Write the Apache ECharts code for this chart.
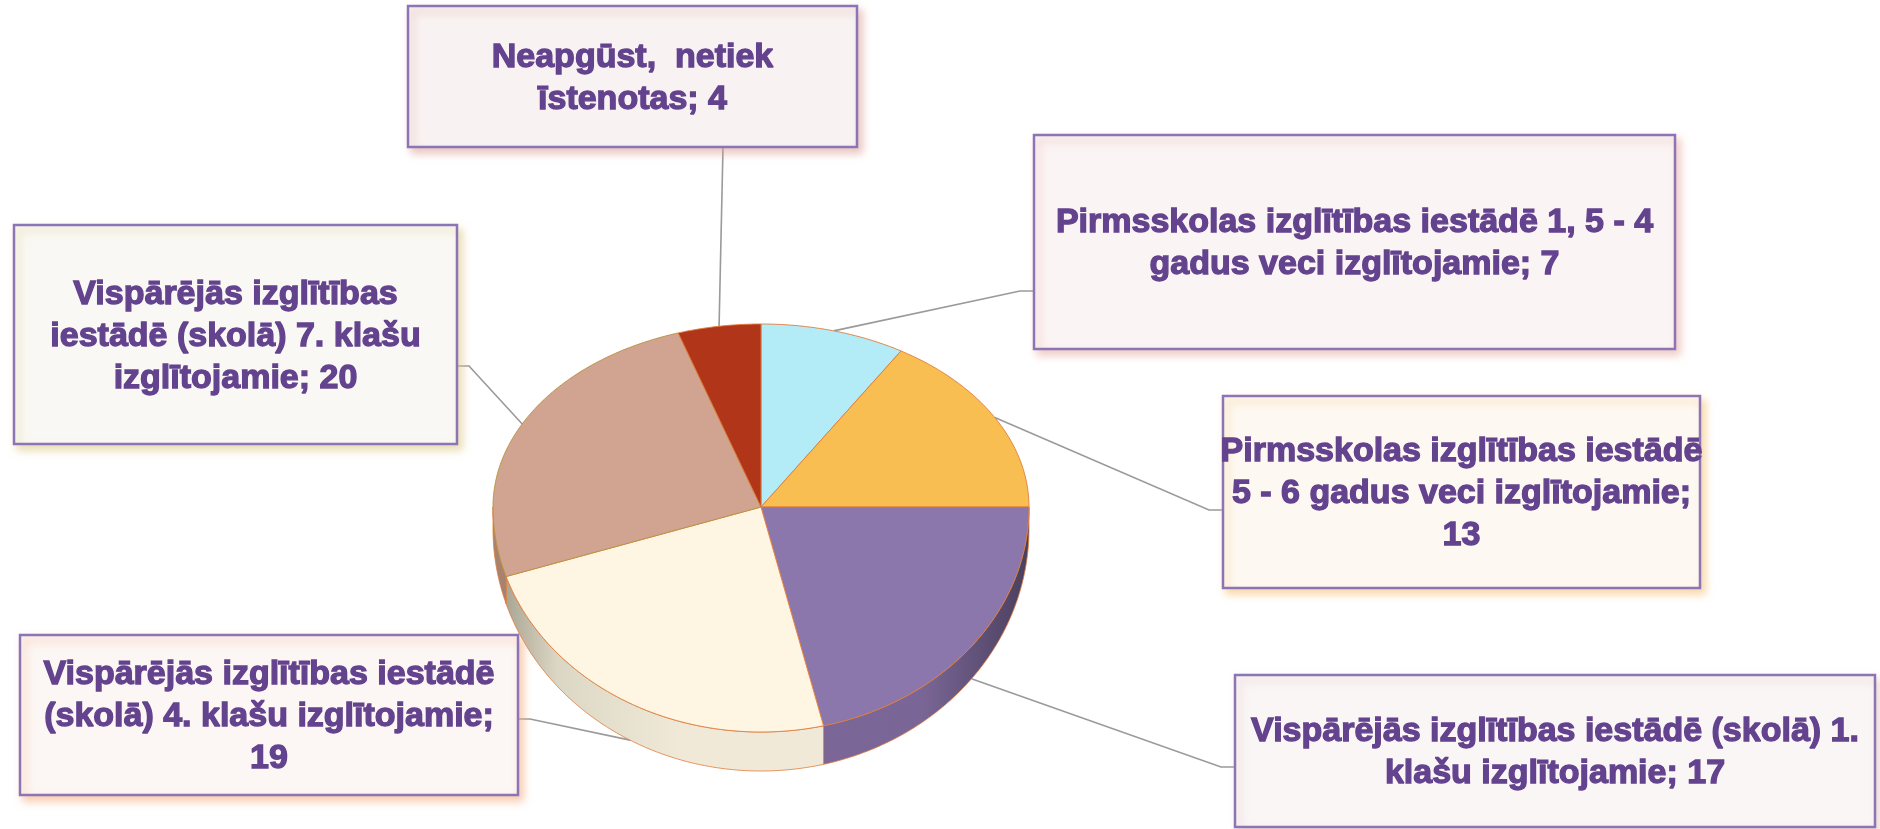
<!DOCTYPE html>
<html>
<head>
<meta charset="utf-8">
<script src="https://cdn.jsdelivr.net/npm/echarts@6/dist/echarts.min.js"></script>
<style>
html, body { margin: 0; padding: 0; background: #fff; }
#main { width: 1880px; height: 829px; }
</style>
</head>
<body>
<div id="main"></div>
<script>
var categories = [
    'Pirmsskolas izglītības iestādē 1, 5 - 4 gadus veci izglītojamie',
    'Pirmsskolas izglītības iestādē 5 - 6 gadus veci izglītojamie',
    'Vispārējās izglītības iestādē (skolā) 1. klašu izglītojamie',
    'Vispārējās izglītības iestādē (skolā) 4. klašu izglītojamie',
    'Vispārējās izglītības iestādē (skolā) 7. klašu izglītojamie',
    'Neapgūst,  netiek īstenotas'
];
var values = [7, 13, 17, 19, 20, 4];

var topColors = ['#B3ECF6', '#F8BE52', '#8B77AB', '#FEF5E3', '#D0A490', '#B13519'];
var sideStops = [
    [[0, '#8FC6D0'], [1, '#8FC6D0']],
    [[0, '#D69A30'], [1, '#D69A30']],
    [[0, '#7D6A9A'], [0.8, '#7A6696'], [1, '#4A3F5E']],
    [[0, '#9C9A88'], [0.12, '#DCD7C4'], [0.35, '#F0E9D8'], [1, '#F0E9D8']],
    [[0, '#A88270'], [1, '#A88270']],
    [[0, '#8A2810'], [1, '#8A2810']]
];
var boxFills = ['#FBF4F4', '#FDF9F2', '#FAF6F6', '#FCF6F4', '#F9F8F4', '#F8F3F2'];
var boxShadows = ['rgba(230,170,160,0.6)', 'rgba(245,190,110,0.6)', 'rgba(220,180,170,0.5)',
    'rgba(245,170,120,0.6)', 'rgba(220,200,130,0.6)', 'rgba(220,160,150,0.6)'];

// label boxes: x, y, w, h, where the leader meets the box, words per text line
var boxes = [
    { x: 1034, y: 135, w: 641, h: 214, side: 'left', at: 291, wrap: [7] },
    { x: 1223, y: 396, w: 477, h: 192, side: 'left', at: 510, wrap: [3, 6] },
    { x: 1235, y: 675, w: 640, h: 152, side: 'left', at: 767, wrap: [5] },
    { x: 20, y: 635, w: 498, h: 160, side: 'right', at: 719, wrap: [3, 4] },
    { x: 14, y: 225, w: 443, h: 219, side: 'right', at: 366, wrap: [2, 4] },
    { x: 408, y: 6, w: 449, h: 141, side: 'bottom', at: 723, wrap: [3] }
];

var cx = 761, cy = 507, rx = 268, ryTop = 183, ryBot = 225;
var total = values.reduce(function (a, b) { return a + b; }, 0);

function depth(t) {
    return 22 + 17 * Math.max(0, -Math.cos(t));
}
function rim(t, down) {
    var c = Math.cos(t);
    var y = cy - (c > 0 ? ryTop : ryBot) * c;
    return [cx + rx * Math.sin(t), y + (down ? depth(t) : 0)];
}
function arcPoints(a, b, down) {
    var pts = [];
    var n = Math.max(2, Math.ceil(Math.abs(b - a) / 0.01));
    for (var k = 0; k <= n; k++) {
        pts.push(rim(a + (b - a) * k / n, down));
    }
    return pts;
}
function wrapText(str, wrap) {
    var words = str.split(' ');
    var lines = [], pos = 0;
    wrap.forEach(function (n) {
        lines.push(words.slice(pos, pos + n).join(' '));
        pos += n;
    });
    lines.push(words.slice(pos).join(' '));
    return lines.join('\n');
}

function renderItem(params, api) {
    var i = params.dataIndex;
    var before = 0;
    for (var k = 0; k < i; k++) before += values[k];
    var a0 = before / total * Math.PI * 2;
    var a1 = (before + api.value(0)) / total * Math.PI * 2;
    var children = [];

    // side wall (front half only)
    var s = Math.max(a0, Math.PI / 2), e = Math.min(a1, Math.PI * 1.5);
    if (e > s) {
        var pts = arcPoints(s, e, false).concat(arcPoints(e, s, true));
        children.push({
            type: 'polygon', z2: 5,
            shape: { points: pts },
            style: {
                fill: {
                    type: 'linear', x: cx - rx, y: 0, x2: cx + rx, y2: 0, global: true,
                    colorStops: sideStops[i].map(function (st) { return { offset: st[0], color: st[1] }; })
                },
                stroke: '#E07B39', lineWidth: 0.8
            }
        });
    }

    // top face
    children.push({
        type: 'polygon', z2: 10,
        shape: { points: [[cx, cy]].concat(arcPoints(a0, a1, false)) },
        style: { fill: topColors[i], stroke: i === 4 ? '#B8903A' : '#E07B39', lineWidth: 0.9 }
    });

    // leader line
    var mid = (a0 + a1) / 2;
    var anchor = rim(mid, Math.cos(mid) < 0);
    var b = boxes[i], line;
    if (b.side === 'left') line = [anchor, [b.x - 14, b.at], [b.x, b.at]];
    else if (b.side === 'right') line = [anchor, [b.x + b.w + 12, b.at], [b.x + b.w, b.at]];
    else line = [anchor, [b.at, b.y + b.h]];
    children.push({
        type: 'polyline', z2: 1,
        shape: { points: line },
        style: { stroke: '#9A9A9A', lineWidth: 1.6, fill: null }
    });

    // label box
    children.push({
        type: 'rect', z2: 20,
        shape: { x: b.x, y: b.y, width: b.w, height: b.h },
        style: {
            fill: boxFills[i], stroke: '#8C75B6', lineWidth: 2.5,
            shadowBlur: 8, shadowOffsetX: 4, shadowOffsetY: 5, shadowColor: boxShadows[i]
        }
    });
    children.push({
        type: 'text', z2: 21,
        style: {
            text: wrapText(categories[i] + '; ' + api.value(0), b.wrap),
            x: b.x + b.w / 2, y: b.y + b.h / 2 + 2,
            align: 'center', verticalAlign: 'middle',
            fontFamily: 'Liberation Sans, Arial, sans-serif',
            fontWeight: 'bold', fontSize: 34, lineHeight: 42,
            fill: '#63428E', stroke: '#63428E', lineWidth: 1.3
        }
    });
    return { type: 'group', children: children };
}

var myChart = echarts.init(document.getElementById('main'));
var option = {
    backgroundColor: '#ffffff',
    animation: false,
    series: [
        {
            type: 'custom',
            coordinateSystem: 'none',
            renderItem: renderItem,
            data: values.map(function (v, i) { return { name: categories[i], value: [v] }; })
        }
    ]
};
myChart.setOption(option);
</script>
</body>
</html>
